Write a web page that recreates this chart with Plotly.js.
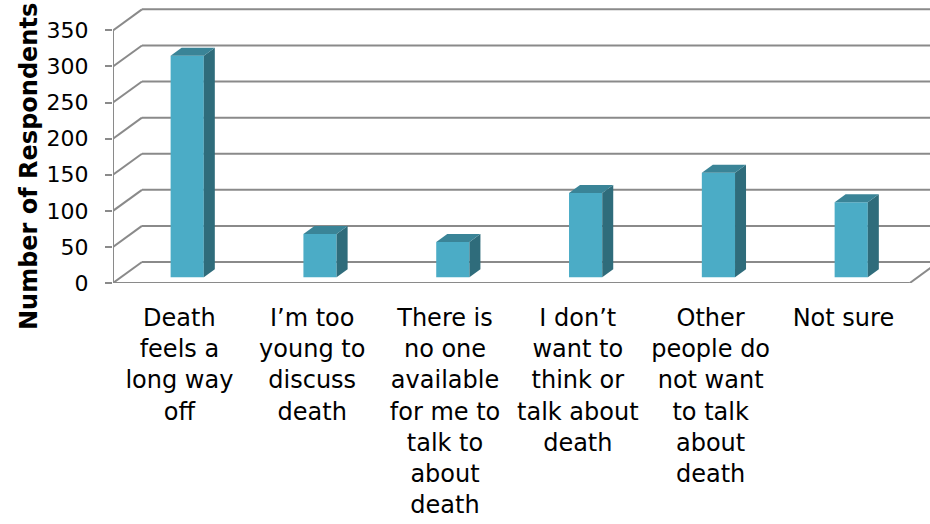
<!DOCTYPE html>
<html>
<head>
<meta charset="utf-8">
<script src="https://cdn.plot.ly/plotly-3.0.1.min.js"></script>
<style>
  html, body { margin: 0; padding: 0; background: #fff; overflow: hidden; }
  #chart { width: 930px; height: 524px; }
</style>
</head>
<body>
<div id="chart"></div>
<script>
// Reasons respondents gave for not discussing death
const categories = [
  "Death<br>feels a<br>long way<br>off",
  "I\u2019m too<br>young to<br>discuss<br>death",
  "There is<br>no one<br>available<br>for me to<br>talk to<br>about<br>death",
  "I don\u2019t<br>want to<br>think or<br>talk about<br>death",
  "Other<br>people do<br>not want<br>to talk<br>about<br>death",
  "Not sure"
];
const respondents = [307, 60, 49, 117, 145, 104];
const yTicks = [0, 50, 100, 150, 200, 250, 300, 350];

// Pseudo-3D geometry (in axis units): depth of the box and of each column
const DEPTH_X = 0.218;   // horizontal shift from front to back wall
const DEPTH_Y = 29.1;    // vertical shift from front to back wall
const BAR_FRONT = 0.27;  // depth fraction of column front face
const BAR_BACK = 0.65;   // depth fraction of column back face
const BAR_W = 0.25;
const X_MAX = 6.152;
const Y_MAX = 381;

const FRONT = "#4BACC6", SIDE = "#2F6C7B", TOP = "#3A8497";
const GRID = "#8a8a8a";

const centers = categories.map((_, i) => i + 0.5);

// Walls and gridlines as shapes under the data
const shapes = [];
const line = (x0, y0, x1, y1) => shapes.push({
  type: "line", xref: "x", yref: "y", layer: "below",
  x0, y0, x1, y1, line: { color: GRID, width: 2 }
});
yTicks.forEach(v => {
  line(0, v, DEPTH_X, v + DEPTH_Y);                 // side wall
  line(DEPTH_X, v + DEPTH_Y, X_MAX + 1, v + DEPTH_Y); // back wall
});
line(0, 0, 0, yTicks[yTicks.length - 1]);            // value axis
line(0, 0, categories.length, 0);                    // floor front edge
line(categories.length, 0, categories.length + DEPTH_X, DEPTH_Y); // floor right edge

const dx0 = BAR_FRONT * DEPTH_X, dy0 = BAR_FRONT * DEPTH_Y;
const dx1 = BAR_BACK * DEPTH_X, dy1 = BAR_BACK * DEPTH_Y;

const traces = [{
  type: "bar",
  x: centers.map(c => c + dx0),
  y: respondents,
  base: respondents.map(() => dy0),
  width: BAR_W,
  marker: { color: FRONT, line: { width: 0 } },
  hoverinfo: "skip"
}];

respondents.forEach((v, i) => {
  const l = centers[i] - BAR_W / 2 + dx0, r = centers[i] + BAR_W / 2 + dx0;
  const ddx = dx1 - dx0, ddy = dy1 - dy0;
  // right side face
  traces.push({
    type: "scatter", mode: "lines", fill: "toself", fillcolor: SIDE,
    line: { width: 0, color: SIDE }, hoverinfo: "skip",
    x: [r, r + ddx, r + ddx, r, r],
    y: [dy0, dy0 + ddy, dy0 + v + ddy, dy0 + v, dy0]
  });
  // top face
  traces.push({
    type: "scatter", mode: "lines", fill: "toself", fillcolor: TOP,
    line: { width: 0, color: TOP }, hoverinfo: "skip",
    x: [l, r, r + ddx, l + ddx, l],
    y: [dy0 + v, dy0 + v, dy0 + v + ddy, dy0 + v + ddy, dy0 + v]
  });
});

const layout = {
  width: 930, height: 524,
  margin: { l: 113, r: 0, t: 8, b: 241 },
  paper_bgcolor: "#fff", plot_bgcolor: "#fff",
  showlegend: false,
  font: { family: "DejaVu Sans, Verdana, sans-serif", color: "#000" },
  xaxis: {
    range: [0, X_MAX], tickvals: centers, ticktext: categories,
    showgrid: false, zeroline: false, showline: false, ticks: "",
    tickangle: 0, ticklabelstandoff: 18,
    tickfont: { size: 24, color: "#000" }, fixedrange: true
  },
  yaxis: {
    range: [0, Y_MAX], tickvals: yTicks, ticktext: yTicks.map(String),
    showgrid: false, zeroline: false, showline: false,
    ticks: "outside", ticklen: 7, tickwidth: 2, tickcolor: GRID,
    ticklabelstandoff: 12,
    tickfont: { size: 22, color: "#000" }, fixedrange: true
  },
  shapes,
  annotations: [{
    text: "<b>Number of Respondents</b>",
    xref: "paper", yref: "paper",
    x: -0.1028, y: 0.4218, xanchor: "center", yanchor: "middle",
    textangle: -90, showarrow: false,
    font: { size: 24, color: "#000", family: "DejaVu Sans, Verdana, sans-serif" }
  }]
};

Plotly.newPlot("chart", traces, layout, { displayModeBar: false, staticPlot: true });
</script>
</body>
</html>
